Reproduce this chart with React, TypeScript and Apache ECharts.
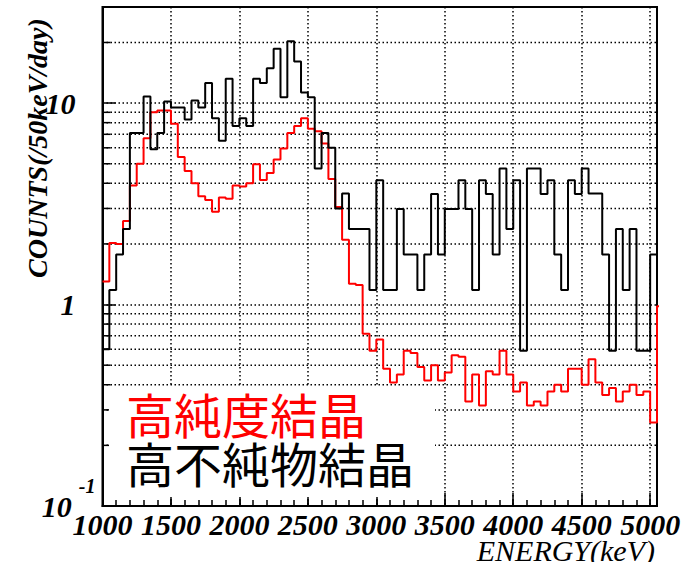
import React, { useEffect, useRef } from 'react';
import * as echarts from 'echarts';

// Histogram: 50 keV bins starting at 1000 keV
const binStart = 1000;
const binWidth = 50;
const xMin = 1000;
const xMax = 5050;
const yMin = 0.1;
const yMax = 30;

// 高純度結晶 (red)
const highPurityCounts = [
  1.3, 2.02, 2.0, 2.6, 3.9, 5.0, 6.7, 9.0, 9.2, 9.2,
  7.9, 5.4, 4.6, 4.0, 3.45, 3.3, 2.89, 3.4, 3.35, 3.9,
  3.85, 4.0, 4.97, 4.15, 4.5, 5.25, 5.95, 7.1, 7.7, 8.4,
  7.45, 7.25, 6.3, 4.2, 3.05, 2.1, 1.27, 1.25, 0.716, 0.59,
  0.67, 0.48, 0.41, 0.45, 0.59, 0.575, 0.49, 0.42, 0.5, 0.42,
  0.46, 0.56, 0.55, 0.33, 0.45, 0.315, 0.466, 0.45, 0.59, 0.45,
  0.37, 0.41, 0.315, 0.33, 0.315, 0.37, 0.4, 0.37, 0.48, 0.48,
  0.4, 0.535, 0.41, 0.356, 0.385, 0.33, 0.37, 0.4, 0.356, 0.37,
  0.26, 0.98,
];

// 高不純物結晶 (black)
const highImpurityCounts = [
  0.6, 1.18, 1.77, 2.37, 7.1, 7.1, 10.8, 5.9, 7.1, 10.2,
  9.5, 9.5, 8.3, 10.3, 9.5, 12.6, 8.4, 6.5, 13.2, 7.7,
  8.4, 7.7, 13.2, 12.6, 14.9, 18.6, 10.7, 20.3, 16.1, 11.3,
  10.7, 4.74, 7.1, 6.0, 3.0, 3.56, 2.37, 2.37, 2.37, 1.18,
  4.14, 1.18, 1.18, 2.98, 1.77, 1.77, 1.18, 1.77, 3.54, 1.77,
  2.98, 2.98, 4.14, 2.98, 1.18, 4.14, 3.54, 1.77, 4.74, 2.37,
  4.14, 0.59, 4.74, 4.74, 3.54, 4.14, 1.77, 1.18, 4.14, 3.54,
  4.74, 3.56, 3.56, 1.77, 0.59, 2.37, 1.18, 2.37, 0.59, 0.59,
  1.77,
];

const yMinorGrid = [0.2, 0.3, 0.4, 0.5, 0.6, 0.7, 0.8, 0.9, 2, 3, 4, 5, 6, 7, 8, 9, 20];

const seriesNames = ['高純度結晶', '高不純物結晶'];
const xTitle = 'ENERGY(keV)';
const yTitle = 'COUNTS(/50keV/day)';

const serif = 'Liberation Serif, Times New Roman, serif';
const cjk = 'Noto Sans CJK JP, Noto Sans CJK SC, sans-serif';

function stepPoints(vals: number[]) {
  const pts: number[][] = vals.map((v, i) => [binStart + i * binWidth, v]);
  pts.push([binStart + vals.length * binWidth, vals[vals.length - 1]]);
  return pts;
}

export default function App() {
  const ref = useRef<HTMLDivElement>(null);
  useEffect(() => {
    if (!ref.current) return;
    const chart = echarts.init(ref.current, undefined, { renderer: 'svg' });
    const dotted = [1.5, 2.5];
    const option: any = {
      animation: false,
      backgroundColor: '#fff',
      grid: {
        left: 102.5,
        top: 7,
        width: 554.5,
        height: 499,
        show: true,
        borderColor: '#000',
        borderWidth: 2,
        containLabel: false,
        outerBoundsMode: 'none',
      },
      xAxis: [
        {
          type: 'value',
          min: xMin,
          max: xMax,
          interval: 500,
          axisLine: { show: true, lineStyle: { color: '#000', width: 2 } },
          axisTick: { show: true, inside: true, length: 13, lineStyle: { color: '#000', width: 1.5 } },
          splitLine: { show: true, lineStyle: { color: '#000', width: 1.5, type: dotted } },
          axisLabel: {
            show: true,
            margin: 3,
            showMaxLabel: false,
            color: '#000',
            fontFamily: serif,
            fontWeight: 'bold',
            fontStyle: 'italic',
            fontSize: 30,
            formatter: (v: number) => String(v),
          },
        },
        {
          type: 'value',
          min: xMin,
          max: xMax,
          interval: 100,
          position: 'bottom',
          axisLine: { show: false },
          axisTick: { show: true, inside: true, length: 6, lineStyle: { color: '#000', width: 1.5 } },
          splitLine: { show: false },
          axisLabel: { show: false },
        },
      ],
      yAxis: {
        type: 'log',
        logBase: 10,
        min: yMin,
        max: yMax,
        axisLine: { show: true, lineStyle: { color: '#000', width: 2 } },
        axisTick: { show: true, inside: true, length: 13, lineStyle: { color: '#000', width: 1.5 } },
        splitLine: { show: true, lineStyle: { color: '#000', width: 1.5, type: dotted } },
        axisLabel: {
          show: true,
          margin: 7,
          color: '#000',
          fontFamily: serif,
          fontWeight: 'bold',
          fontStyle: 'italic',
          fontSize: 30,
          formatter: (v: number) => {
            if (Math.abs(v - 10) < 1e-6) return '{m|10}';
            if (Math.abs(v - 1) < 1e-6) return '{m|1}';
            if (Math.abs(v - 0.1) < 1e-6) return '{n|10}{s|-1}';
            return '';
          },
          rich: {
            m: { fontFamily: serif, fontWeight: 'bold', fontStyle: 'italic', fontSize: 30, color: '#000', padding: [0, 20, 0, 0] },
            n: { fontFamily: serif, fontWeight: 'bold', fontStyle: 'italic', fontSize: 30, lineHeight: 60, color: '#000' },
            s: { fontFamily: serif, fontWeight: 'bold', fontStyle: 'italic', fontSize: 20, lineHeight: 22, verticalAlign: 'top', color: '#000', padding: [0, 0, 0, 7] },
          },
        },
      },
      series: [
        {
          type: 'custom',
          name: 'grid',
          silent: true,
          clip: false,
          z: 1,
          data: yMinorGrid.map((v) => [xMin, v]),
          renderItem: (params: any, api: any) => {
            const y = api.coord([xMin, api.value(1)])[1];
            const cs = params.coordSys;
            return {
              type: 'group',
              children: [
                {
                  type: 'line',
                  shape: { x1: cs.x, y1: y, x2: cs.x + cs.width, y2: y },
                  style: { stroke: '#000', lineWidth: 1.5, lineDash: dotted },
                },
                {
                  type: 'line',
                  shape: { x1: cs.x, y1: y, x2: cs.x + 8, y2: y },
                  style: { stroke: '#000', lineWidth: 1.5 },
                },
              ],
            };
          },
        },
        {
          type: 'line',
          name: seriesNames[0],
          data: stepPoints(highPurityCounts),
          step: 'end',
          showSymbol: false,
          symbol: 'none',
          clip: true,
          z: 3,
          lineStyle: { color: '#ff0000', width: 2 },
        },
        {
          type: 'line',
          name: seriesNames[1],
          data: stepPoints(highImpurityCounts),
          step: 'end',
          showSymbol: false,
          symbol: 'none',
          clip: true,
          z: 4,
          lineStyle: { color: '#000', width: 2 },
        },
      ],
      graphic: [
        {
          type: 'rect',
          z: 50,
          shape: { x: 109, y: 386, width: 326, height: 111 },
          style: { fill: '#fff' },
        },
        {
          type: 'text',
          z: 51,
          x: 126,
          y: 413,
          style: { text: seriesNames[0], fill: '#ff0000', font: `48px ${cjk}`, textAlign: 'left', textVerticalAlign: 'middle' },
        },
        {
          type: 'text',
          z: 51,
          x: 126,
          y: 462,
          style: { text: seriesNames[1], fill: '#000', font: `48px ${cjk}`, textAlign: 'left', textVerticalAlign: 'middle' },
        },
        {
          type: 'text',
          z: 51,
          x: 655,
          y: 550,
          style: { text: xTitle, fill: '#000', font: `italic 30px ${serif}`, textAlign: 'right', textVerticalAlign: 'middle' },
        },
        {
          type: 'text',
          z: 51,
          x: 37,
          y: 148,
          rotation: Math.PI / 2,
          style: { text: yTitle, fill: '#000', font: `italic bold 28px ${serif}`, textAlign: 'center', textVerticalAlign: 'middle' },
        },
      ],
    };
    chart.setOption(option);
    return () => chart.dispose();
  }, []);
  return (
    <div
      ref={ref}
      style={{ position: 'fixed', left: 0, top: 0, width: 697, height: 562, background: '#fff' }}
    />
  );
}
